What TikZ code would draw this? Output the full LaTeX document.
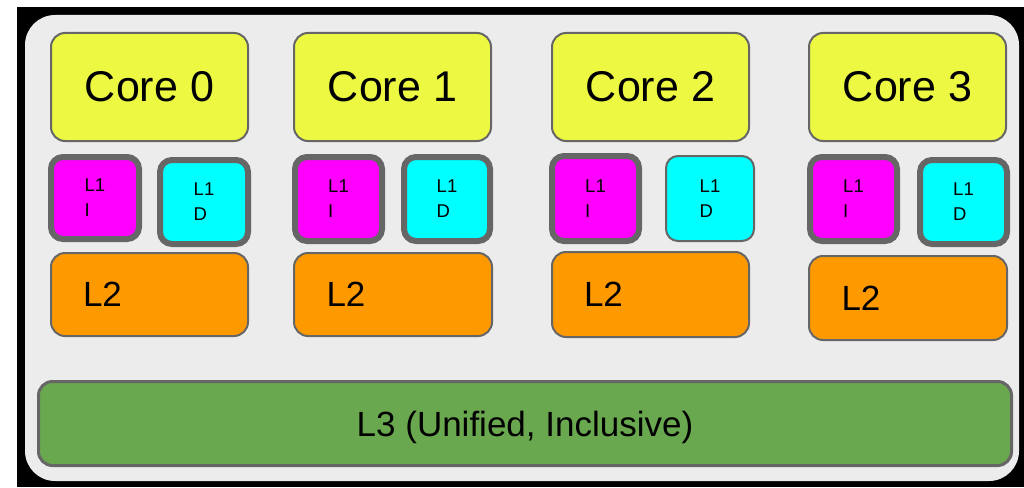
\documentclass[tikz,border=0pt]{standalone}
\usepackage{fontspec}
\setmainfont{Liberation Sans}
\definecolor{coreyellow}{RGB}{236, 248, 66}
\definecolor{icachemag}{RGB}{255, 0, 255}
\definecolor{dcachecyan}{RGB}{0, 255, 255}
\definecolor{ltwoorange}{RGB}{255, 153, 0}
\definecolor{lthreegreen}{RGB}{106, 168, 79}
\definecolor{chipgray}{RGB}{236, 236, 236}
\definecolor{edgegray}{RGB}{102, 102, 102}
\tikzset{
  cachebox/.style={draw=edgegray, rounded corners=14pt, inner sep=0pt, text=black},
  corebox/.style={cachebox, line width=2pt, fill=coreyellow, minimum width=197pt, minimum height=108pt, font=\fontsize{43}{50}\selectfont},
  lonebox/.style={cachebox, line width=6pt, rounded corners=12pt, minimum width=87pt, minimum height=84pt, align=left, font=\fontsize{18.5}{25}\selectfont},
  ltwobox/.style={cachebox, line width=2pt, fill=ltwoorange, minimum width=197pt, minimum height=84pt, text width=133pt, align=left, font=\fontsize{35}{42}\selectfont},
}

\begin{document}
\begin{tikzpicture}[x=1pt, y=-1pt]
  \useasboundingbox (0, 0) rectangle (1024, 487);

  % Chip outline
  \fill[black] (17, 7) rectangle (1024, 487);
  \fill[chipgray, rounded corners=30pt] (25, 15) rectangle (1019, 481);

  % Cores
  \node[corebox] (core0) at (149.5, 87) {Core 0};
  \node[corebox] (core1) at (392.5, 87) {Core 1};
  \node[corebox] (core2) at (650.5, 87) {Core 2};
  \node[corebox] (core3) at (907.5, 87) {Core 3};

  % L1 instruction caches
  \node[lonebox, fill=icachemag, minimum width=88pt, minimum height=82pt] (l1i0) at (95, 198) {L1\\I};
  \node[lonebox, fill=icachemag] (l1i1) at (338.5, 199) {L1\\I};
  \node[lonebox, fill=icachemag, minimum height=85pt] (l1i2) at (595.5, 198.5) {L1\\I};
  \node[lonebox, fill=icachemag] (l1i3) at (853.5, 199) {L1\\I};

  % L1 data caches
  \node[lonebox, fill=dcachecyan, minimum width=88pt] (l1d0) at (204, 202) {L1\\D};
  \node[lonebox, fill=dcachecyan, minimum width=86pt] (l1d1) at (447, 199) {L1\\D};
  \node[lonebox, fill=dcachecyan, line width=2pt, minimum width=88pt, minimum height=85pt] (l1d2) at (710, 198.5) {L1\\D};
  \node[lonebox, fill=dcachecyan] (l1d3) at (963.5, 202) {L1\\D};

  % L2 caches
  \node[ltwobox, minimum height=83pt] (l20) at (149.5, 294.5) {L2};
  \node[ltwobox, minimum width=198pt, minimum height=83pt] (l21) at (393, 294.5) {L2};
  \node[ltwobox, minimum height=85pt] (l22) at (650.5, 294.5) {L2};
  \node[ltwobox, minimum width=198pt] (l23) at (908, 298) {L2};

  % Shared L3
  \node[cachebox, line width=3pt, fill=lthreegreen, minimum width=973pt, minimum height=84pt, text depth=0pt, font=\fontsize{35}{42}\selectfont] (l3) at (525, 423.5) {L3 (Unified, Inclusive)};
\end{tikzpicture}
\end{document}
